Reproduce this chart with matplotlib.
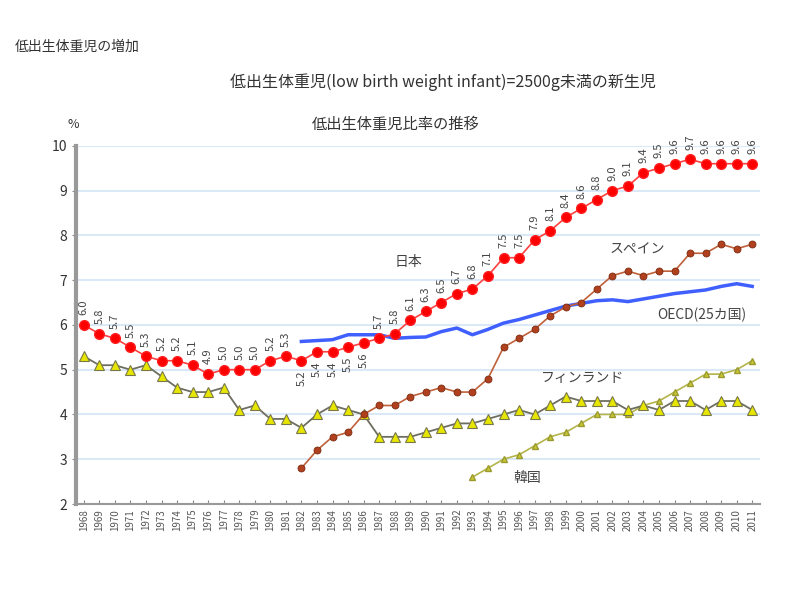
# -*- coding: utf-8 -*-
import matplotlib
matplotlib.use('Agg')
import matplotlib.pyplot as plt

plt.rcParams['font.family'] = ['Noto Sans CJK JP', 'DejaVu Sans']

# -- data ------------------------------------
years = list(range(1968, 2012))

japan = [6.0, 5.8, 5.7, 5.5, 5.3, 5.2, 5.2, 5.1, 4.9, 5.0, 5.0, 5.0, 5.2, 5.3,
         5.2, 5.4, 5.4, 5.5, 5.6, 5.7, 5.8, 6.1, 6.3, 6.5, 6.7, 6.8, 7.1, 7.5,
         7.5, 7.9, 8.1, 8.4, 8.6, 8.8, 9.0, 9.1, 9.4, 9.5, 9.6, 9.7, 9.6, 9.6,
         9.6, 9.6]

finland = [5.3, 5.1, 5.1, 5.0, 5.1, 4.85, 4.6, 4.5, 4.5, 4.6, 4.1, 4.2, 3.9,
           3.9, 3.7, 4.0, 4.2, 4.1, 4.0, 3.5, 3.5, 3.5, 3.6, 3.7, 3.8, 3.8,
           3.9, 4.0, 4.1, 4.0, 4.2, 4.4, 4.3, 4.3, 4.3, 4.1, 4.2, 4.1, 4.3,
           4.3, 4.1, 4.3, 4.3, 4.1]

spain_start = 14
spain = [2.8, 3.2, 3.5, 3.6, 4.0, 4.2, 4.2, 4.4, 4.5, 4.6, 4.5, 4.5, 4.8, 5.5,
         5.7, 5.9, 6.2, 6.4, 6.5, 6.8, 7.1, 7.2, 7.1, 7.2, 7.2, 7.6, 7.6, 7.8,
         7.7, 7.8]

oecd_start = 14
oecd = [5.63, 5.65, 5.67, 5.78, 5.78, 5.78, 5.70, 5.72, 5.73, 5.85, 5.93,
        5.78, 5.90, 6.04, 6.12, 6.22, 6.32, 6.42, 6.48, 6.54, 6.56, 6.52,
        6.58, 6.64, 6.70, 6.74, 6.78, 6.86, 6.92, 6.86]

korea_start = 25
korea = [2.6, 2.8, 3.0, 3.1, 3.3, 3.5, 3.6, 3.8, 4.0, 4.0, 4.0, 4.2, 4.3, 4.5,
         4.7, 4.9, 4.9, 5.0, 5.2]

# Japan labels drawn below the line (OECD line sits above them)
below_idx = [14, 15, 16, 17, 18]

# -- plot ------------------------------------
fig = plt.figure(figsize=(8, 6), dpi=100)
ax = fig.add_axes([0.095, 0.16, 0.855, 0.597])

x = list(range(len(years)))

ax.plot(list(range(oecd_start, oecd_start + len(oecd))), oecd,
        color='#3f5fff', lw=2.5, zorder=2)
ax.plot(list(range(korea_start, korea_start + len(korea))), korea,
        color='#b4b44a', lw=1.2, marker='^', ms=4, mfc='#c8c832',
        mec='#9a9a30', zorder=3)
ax.plot(x, finland, color='#6e6e60', lw=1.3, marker='^', ms=7,
        mfc='#e6e600', mec='#77774a', mew=0.8, zorder=3)
ax.plot(list(range(spain_start, spain_start + len(spain))), spain,
        color='#c0603a', lw=1.2, marker='o', ms=5, mfc='#b0401e',
        mec='#7a2a10', mew=0.6, zorder=3)
ax.plot(x, japan, color='#ff4040', lw=1.2, marker='o', ms=7,
        mfc='#ff0000', mec='#ff2020', zorder=4)

for i, v in enumerate(japan):
    if i in below_idx:
        ax.annotate('%.1f' % v, (i, v), xytext=(0, -7), textcoords='offset points',
                    rotation=90, ha='center', va='top', fontsize=8, color='#444444')
    else:
        ax.annotate('%.1f' % v, (i, v), xytext=(0, 7), textcoords='offset points',
                    rotation=90, ha='center', va='bottom', fontsize=8, color='#444444')

ax.text(20.9, 7.41, '日本', ha='center', va='center', fontsize=10, color='#444444')
ax.text(35.6, 7.68, 'スペイン', ha='center', va='center', fontsize=10, color='#444444')
ax.text(36.9, 6.22, 'OECD(25カ国)', ha='left', va='center', fontsize=10,
        color='#444444', clip_on=False)
ax.text(32.1, 4.82, 'フィンランド', ha='center', va='center', fontsize=10, color='#444444')
ax.text(28.5, 2.58, '韓国', ha='center', va='center', fontsize=10, color='#444444')

ax.set_xlim(-0.5, len(years) - 0.5)
ax.set_ylim(2, 10)
ax.set_yticks(range(2, 11))
ax.yaxis.grid(True, color='#dbe8f8', lw=1.5)
ax.set_axisbelow(True)

ax.set_xticks(x)
ax.set_xticklabels([str(y) for y in years], rotation=90, fontsize=7, color='#555555')
ax.tick_params(axis='x', direction='in', length=3, color='#888888')
ax.tick_params(axis='y', length=3, labelsize=10, color='#888888', labelcolor='#333333')

for s in ['top', 'right']:
    ax.spines[s].set_visible(False)
ax.spines['left'].set_color('#999999')
ax.spines['left'].set_linewidth(3)
ax.spines['bottom'].set_color('#999999')
ax.spines['bottom'].set_linewidth(1.5)

fig.text(0.018, 0.922, '低出生体重児の増加', fontsize=10, color='#333333', va='center')
fig.text(0.554, 0.863, '低出生体重児(low birth weight infant)=2500g未満の新生児',
         fontsize=11.5, color='#333333', ha='center', va='center')
fig.text(0.085, 0.792, '%', fontsize=9, color='#333333', va='center')
fig.text(0.495, 0.792, '低出生体重児比率の推移', fontsize=11, color='#333333',
         ha='center', va='center')

plt.savefig('out.png', dpi=100)
